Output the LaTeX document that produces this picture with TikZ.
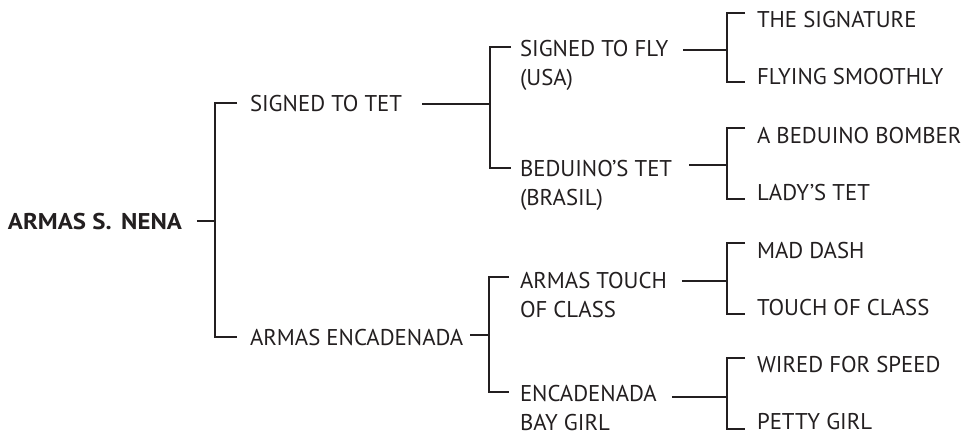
\documentclass[tikz,border=0pt]{standalone}
\usepackage{fontspec}
\usepackage{graphicx}
\setmainfont{PT Sans}
\definecolor{ink}{HTML}{231F20}
\newcommand{\twoline}[2]{\begin{tabular}[t]{@{}l@{}}#1\\#2\end{tabular}}
\begin{document}
\begin{tikzpicture}[x=1pt,y=-1pt,
  lbl/.style={anchor=base west,inner sep=0pt,outer sep=0pt,text=ink,font=\fontsize{22.8}{29}\selectfont},
  rootlbl/.style={lbl,font=\fontsize{22.8}{29}\selectfont\bfseries},
  conn/.style={draw=ink,line width=2.5pt}]
\useasboundingbox (0,0) rectangle (965,432);
% nodes
\node[rootlbl] (root) at (8,229) {\scalebox{1.09}[1]{ARMAS S.\kern3pt\ NENA}};
\node[lbl] (sgtet) at (250,111) {SIGNED TO TET};
\node[lbl] (armenc) at (250,345) {ARMAS ENCADENADA};
\node[lbl] (sfly) at (520,56) {\twoline{SIGNED TO FLY}{(USA)}};
\node[lbl] (bedtet) at (520,176) {\twoline{BEDUINO’S TET}{(BRASIL)}};
\node[lbl] (atouch) at (520,288) {\twoline{ARMAS TOUCH}{OF CLASS}};
\node[lbl] (encbay) at (520,401) {\twoline{ENCADENADA}{BAY GIRL}};
\node[lbl] (sig) at (757,27) {THE SIGNATURE};
\node[lbl] (fly) at (757,84) {FLYING SMOOTHLY};
\node[lbl] (bomber) at (757,143) {A BEDUINO BOMBER};
\node[lbl] (lady) at (757,200) {LADY’S TET};
\node[lbl] (mad) at (757,258) {MAD DASH};
\node[lbl] (touch) at (757,315) {TOUCH OF CLASS};
\node[lbl] (wired) at (757,372) {WIRED FOR SPEED};
\node[lbl] (petty) at (757,429) {PETTY GIRL};
% junctions
\coordinate (j0) at (215,221);
\coordinate (j1) at (490,104);
\coordinate (j2) at (489,335);
\coordinate (j3) at (727,50);
\coordinate (j4) at (727,165);
\coordinate (j5) at (727,281);
\coordinate (j6) at (727,397);
% tick ends
\coordinate (t-sgtet) at ([shift={(-13,-8)}]sgtet.base west);
\coordinate (t-armenc) at ([shift={(-13,-8)}]armenc.base west);
\coordinate (t-sfly) at ([shift={(-9,-9)}]sfly.base west);
\coordinate (t-bedtet) at ([shift={(-9,-8)}]bedtet.base west);
\coordinate (t-atouch) at ([shift={(-11,-11)}]atouch.base west);
\coordinate (t-encbay) at ([shift={(-11,-9)}]encbay.base west);
\coordinate (t-sig) at ([shift={(-12,-14)}]sig.base west);
\coordinate (t-fly) at ([shift={(-12,-2)}]fly.base west);
\coordinate (t-bomber) at ([shift={(-12,-15)}]bomber.base west);
\coordinate (t-lady) at ([shift={(-12,-1)}]lady.base west);
\coordinate (t-mad) at ([shift={(-12,-15)}]mad.base west);
\coordinate (t-touch) at ([shift={(-12,-1)}]touch.base west);
\coordinate (t-wired) at ([shift={(-12,-14)}]wired.base west);
\coordinate (t-petty) at ([shift={(-12,0)}]petty.base west);
% stubs from parents
\draw[conn] (root.base east |- j0) ++(15,0) -- (j0);
\draw[conn] (sgtet.base east |- j1) ++(20,0) -- (j1);
\draw[conn] (armenc.base east |- j2) ++(7,0) -- (j2);
\draw[conn] (sfly.base east |- j3) ++(15,0) -- (j3);
\draw[conn] (bedtet.base east |- j4) ++(17,0) -- (j4);
\draw[conn] (atouch.base east |- j5) ++(15,0) -- (j5);
\draw[conn] (encbay.base east |- j6) ++(15,0) -- (j6);
% brackets
\draw[conn] (t-sgtet) -| (j0) |- (t-armenc);
\draw[conn] (t-sfly) -| (j1) |- (t-bedtet);
\draw[conn] (t-atouch) -| (j2) |- (t-encbay);
\draw[conn] (t-sig) -| (j3) |- (t-fly);
\draw[conn] (t-bomber) -| (j4) |- (t-lady);
\draw[conn] (t-mad) -| (j5) |- (t-touch);
\draw[conn] (t-wired) -| (j6) |- (t-petty);
\end{tikzpicture}
\end{document}
